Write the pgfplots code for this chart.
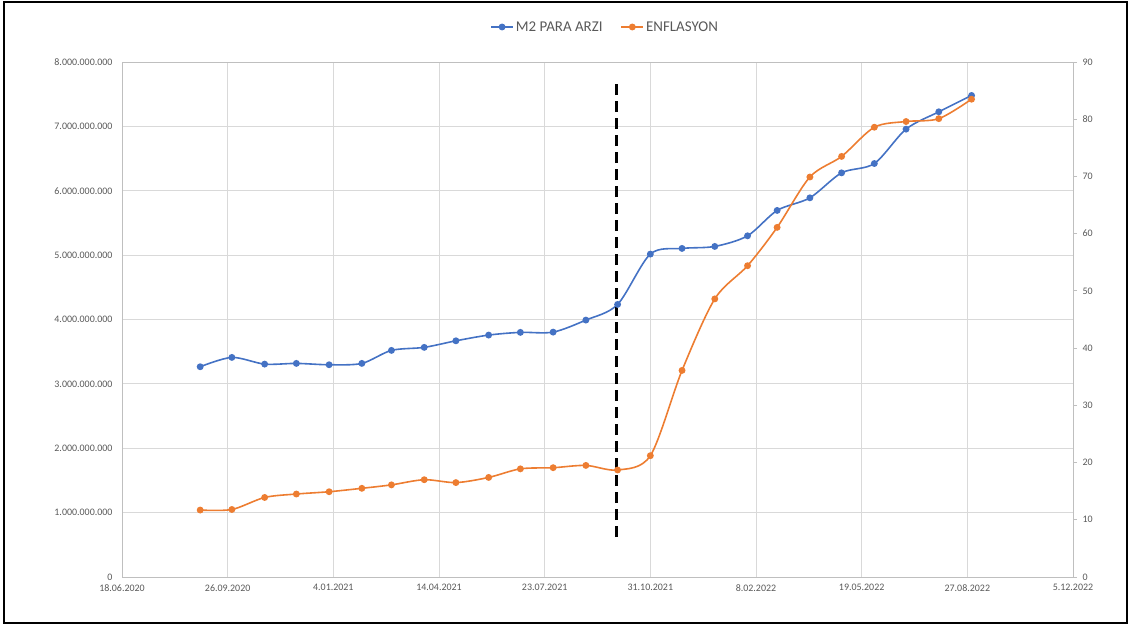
\documentclass[border=0pt]{standalone}
\usepackage{pgfplots}
\usepackage{pgfplotstable}
\pgfplotsset{compat=1.18}
\usepackage{fontspec}
\setmainfont{Carlito}

\definecolor{m2blue}{HTML}{4472C4}
\definecolor{inflorange}{HTML}{ED7D31}
\definecolor{gridgray}{HTML}{D9D9D9}
\definecolor{axgray}{HTML}{BFBFBF}
\definecolor{txtgray}{HTML}{595959}

% day = days since 18.06.2020 (month-end observations)
\pgfplotstableread{
day m2
74  3266000000
104 3411000000
135 3307000000
165 3318000000
196 3297000000
227 3318000000
255 3520000000
286 3567000000
316 3669000000
347 3758000000
377 3800000000
408 3804000000
439 3991000000
469 4234000000
500 5016000000
530 5104000000
561 5135000000
592 5300000000
620 5694000000
651 5890000000
681 6278000000
712 6423000000
742 6957000000
773 7226000000
804 7480000000
}\mtwo

\pgfplotstableread{
day infl
74  11.7
104 11.8
135 13.9
165 14.5
196 14.9
227 15.5
255 16.1
286 17.0
316 16.5
347 17.4
377 18.9
408 19.1
439 19.5
469 18.7
500 21.2
530 36.1
561 48.6
592 54.4
620 61.1
651 69.9
681 73.5
712 78.6
742 79.6
773 80.1
804 83.5
}\enflasyon

\pgfplotsset{
  base/.style={
    scale only axis,
    width=951bp, height=515bp,
    at={(122bp,49bp)}, anchor=south west,
    xmin=0, xmax=900,
    ticklabel style={font=\fontsize{10}{12}\selectfont, text=txtgray},
    /pgf/number format/assume math mode=true,
  },
  series/.style={color=#1, line width=1.6bp, smooth, tension=0.5,
    mark=*, mark size=2.6bp, mark options={solid, fill=#1, draw=#1}},
}

\begin{document}
\begin{tikzpicture}
\useasboundingbox (0,0) rectangle (1129bp,626bp);
\draw[line width=2bp] (4bp,3bp) rectangle (1127bp,624bp);

\begin{axis}[base,
  ymin=0, ymax=8000000000,
  scaled y ticks=false,
  axis line style={draw=axgray, line width=0.8bp},
  grid=major,
  grid style={draw=gridgray, line width=0.8bp},
  major tick length=0pt,
  xtick={0,100,200,300,400,500,600,700,800,900},
  xticklabels={18.06.2020,26.09.2020,4.01.2021,14.04.2021,23.07.2021,31.10.2021,8.02.2022,19.05.2022,27.08.2022,5.12.2022},
  xticklabel style={yshift=-4bp},
  ytick={0,1000000000,2000000000,3000000000,4000000000,5000000000,6000000000,7000000000,8000000000},
  yticklabels={0,1.000.000.000,2.000.000.000,3.000.000.000,4.000.000.000,5.000.000.000,6.000.000.000,7.000.000.000,8.000.000.000},
  yticklabel style={xshift=-6bp},
]
\addplot[series=m2blue] table[x=day, y=m2] {\mtwo};
% dashed marker line
\addplot[black, line width=2.6bp, dash pattern=on 11bp off 6bp, forget plot]
  coordinates {(468,620000000) (468,7720000000)};
\end{axis}

\begin{axis}[base,
  ymin=0, ymax=90,
  axis x line=none,
  axis y line*=right,
  axis line style={draw=axgray, line width=0.8bp},
  ytick={0,10,20,30,40,50,60,70,80,90},
  tick align=outside,
  major tick length=4bp,
  ytick style={draw=axgray, line width=0.8bp},
  yticklabel style={xshift=2bp},
  legend columns=2,
  legend style={draw=none, fill=none, at={(0.508,1.068)}, anchor=center,
    font=\fontsize{15}{18}\selectfont, text=txtgray,
    /tikz/every even column/.append style={column sep=16bp}},
  legend image code/.code={
    \draw[mark repeat=2, mark phase=2] plot coordinates {(0bp,0bp) (11bp,0bp) (22bp,0bp)};
  },
]
\addlegendimage{series=m2blue}
\addlegendentry{M2 PARA ARZI}
\addplot[series=inflorange] table[x=day, y=infl] {\enflasyon};
\addlegendentry{ENFLASYON}
\end{axis}
\end{tikzpicture}
\end{document}
